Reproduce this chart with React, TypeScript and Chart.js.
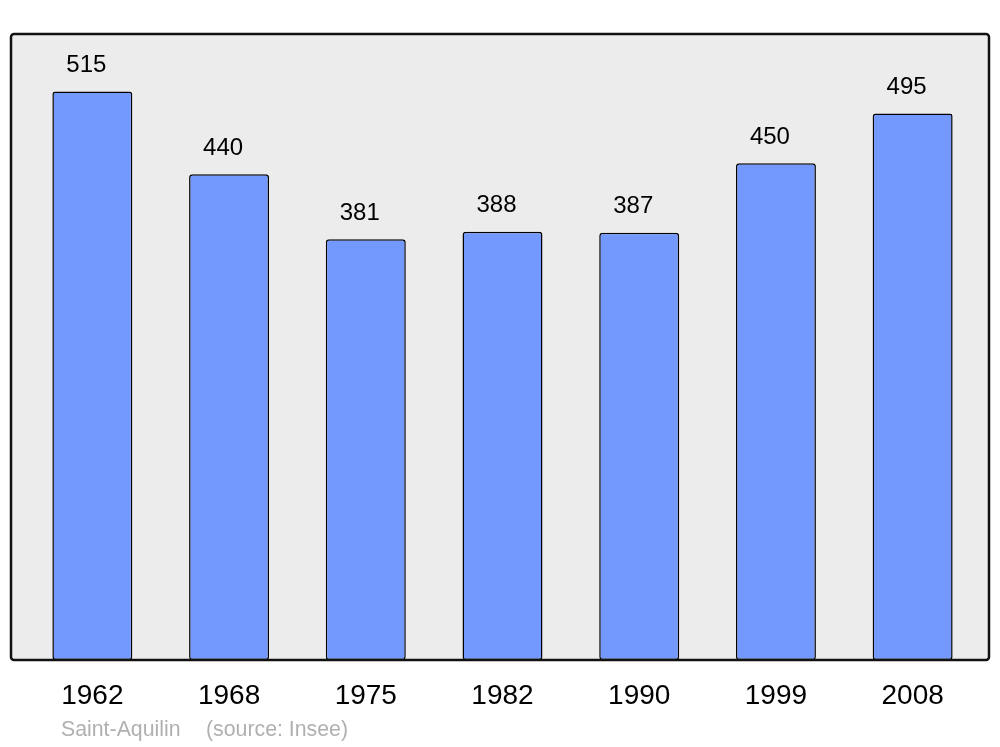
import React, { useEffect, useRef } from "react";
import { Chart, registerables } from "chart.js";

Chart.register(...registerables);

const years = ["1962", "1968", "1975", "1982", "1990", "1999", "2008"];
const population = [515, 440, 381, 388, 387, 450, 495];
const footerName = "Saint-Aquilin";
const footerSource = "(source: Insee)";

const framePlugin = {
  id: "frame",
  beforeDraw(chart: any) {
    const { ctx, chartArea } = chart;
    const x0 = chartArea.left - 13;
    const x1 = chartArea.right + 8;
    const y0 = chartArea.top;
    const y1 = chartArea.bottom;
    ctx.save();
    ctx.beginPath();
    ctx.roundRect(x0, y0, x1 - x0, y1 - y0, 3);
    ctx.fillStyle = "#ececec";
    ctx.fill();
    ctx.restore();
  },
  afterDatasetsDraw(chart: any) {
    const { ctx, chartArea } = chart;
    const x0 = chartArea.left - 13;
    const x1 = chartArea.right + 8;
    const y0 = chartArea.top;
    const y1 = chartArea.bottom;
    ctx.save();
    ctx.beginPath();
    ctx.roundRect(x0, y0, x1 - x0, y1 - y0, 3);
    ctx.lineWidth = 2.5;
    ctx.strokeStyle = "#111";
    ctx.stroke();
    // value labels
    const meta = chart.getDatasetMeta(0);
    ctx.fillStyle = "#000";
    ctx.font = "24px 'Liberation Sans', Arial, sans-serif";
    ctx.textAlign = "center";
    ctx.textBaseline = "middle";
    meta.data.forEach((bar: any, i: number) => {
      ctx.fillText(String(population[i]), bar.x - 6, bar.y - 26);
    });
    // footer
    ctx.fillStyle = "#b0b0b0";
    ctx.font = "21.3px 'Liberation Sans', Arial, sans-serif";
    ctx.textAlign = "left";
    ctx.fillText(footerName, 61, 730);
    ctx.fillText(footerSource, 206, 730);
    ctx.restore();
  },
};

export default function App() {
  const ref = useRef<HTMLCanvasElement | null>(null);
  useEffect(() => {
    if (!ref.current) return;
    const chart = new Chart(ref.current, {
      type: "bar",
      data: {
        labels: years,
        datasets: [
          {
            data: population,
            backgroundColor: "#7399ff",
            borderColor: "#000",
            borderWidth: 1.5,
            borderRadius: 3,
            borderSkipped: false,
            barPercentage: 0.585,
            categoryPercentage: 1,
          },
        ],
      },
      options: {
        animation: false,
        responsive: false,
        layout: { padding: { top: 34, left: 24, right: 19, bottom: 0 } },
        plugins: { legend: { display: false }, tooltip: { enabled: false } },
        scales: {
          x: {
            grid: { display: false, drawTicks: false },
            border: { display: false },
            ticks: {
              color: "#000",
              font: { size: 28, family: "'Liberation Sans', Arial, sans-serif" },
              padding: 19,
            },
            afterFit: (axis: any) => {
              axis.height = 87;
            },
          },
          y: { display: false, min: 0, max: 567 },
        },
      },
      plugins: [framePlugin],
    });
    return () => chart.destroy();
  }, []);
  return (
    <div style={{ position: "absolute", left: 0, top: 0, width: 1000, height: 747, background: "#fff" }}>
      <canvas ref={ref} width={1000} height={747} />
    </div>
  );
}
